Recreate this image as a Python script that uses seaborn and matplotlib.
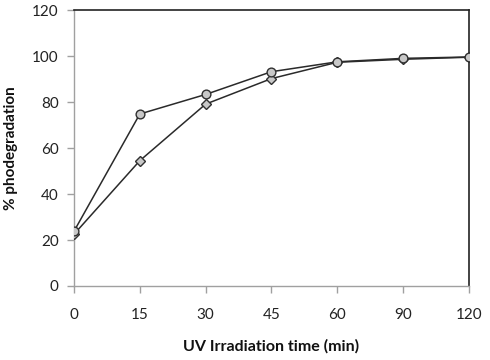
import matplotlib
matplotlib.use("Agg")
import matplotlib.pyplot as plt
import seaborn as sns
import pandas as pd

times = ["0", "15", "30", "45", "60", "90", "120"]
circle_vals = [23.8, 74.8, 83.3, 93.2, 97.5, 99.0, 99.6]
diamond_vals = [22.5, 54.5, 79.1, 90.2, 97.3, 98.6, 99.5]

sns.set_style("white")
plt.rcParams['font.family'] = ['Lato', 'DejaVu Sans']

pos = list(range(len(times)))
df_c = pd.DataFrame({"pos": pos, "val": circle_vals})
df_d = pd.DataFrame({"pos": pos, "val": diamond_vals})

fig = plt.figure(figsize=(4.9, 3.6), dpi=100)
ax = fig.add_axes([0.151, 0.2056, 0.806, 0.7664])

sns.lineplot(data=df_d, x="pos", y="val", ax=ax, color="#2a2a2a", linewidth=1.1,
             marker="D", markersize=5, markerfacecolor="#c8c8c8",
             markeredgecolor="#303030", markeredgewidth=1.0, zorder=3)
sns.lineplot(data=df_c, x="pos", y="val", ax=ax, color="#2a2a2a", linewidth=1.1,
             marker="o", markersize=6.3, markerfacecolor="#c8c8c8",
             markeredgecolor="#303030", markeredgewidth=1.0, zorder=4)

ax.set_xlim(0, len(times) - 1)
ax.set_ylim(0, 120)
ax.set_xticks(pos)
ax.set_xticklabels(times)
ax.set_yticks([0, 20, 40, 60, 80, 100, 120])

for s in ["left", "bottom"]:
    ax.spines[s].set_color("#a0a0a0")
    ax.spines[s].set_linewidth(1.0)
for s in ["top", "right"]:
    ax.spines[s].set_color("#222222")
    ax.spines[s].set_linewidth(1.2)
    ax.spines[s].set_visible(True)

ax.tick_params(axis="both", which="both", direction="out", length=5, width=1,
               color="#a0a0a0", labelsize=11, labelcolor="#222222")
ax.tick_params(axis="x", pad=11, bottom=True)
ax.tick_params(axis="y", pad=6, left=True)

ax.set_xlabel("UV Irradiation time (min)", fontsize=11.5, fontweight="bold", labelpad=12, color="#111111")
ax.set_ylabel("% phodegradation", fontsize=11, fontweight="bold", labelpad=10, color="#111111")
ax.grid(False)

fig.savefig("out.png", dpi=100)
